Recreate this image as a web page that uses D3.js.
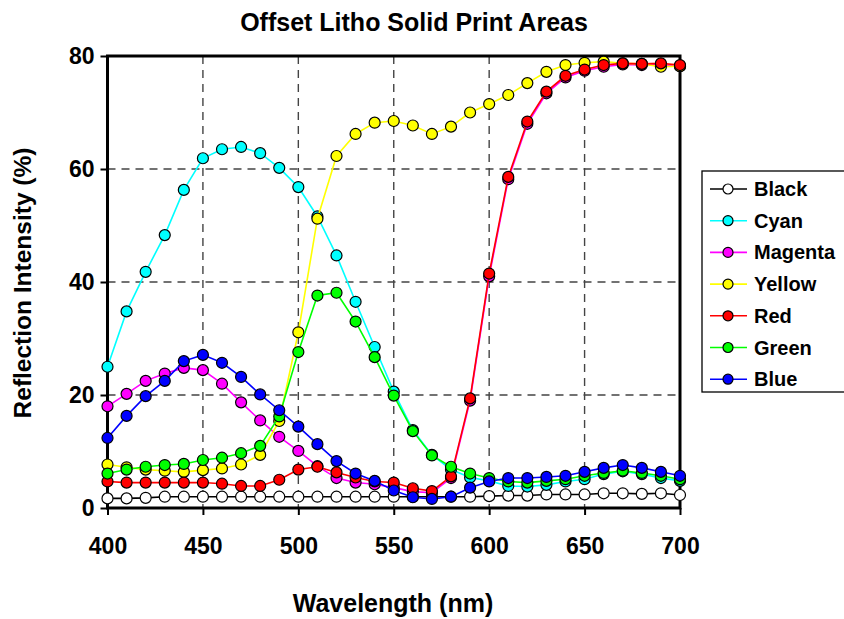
<!DOCTYPE html>
<html>
<head>
<meta charset="utf-8">
<script src="https://cdn.jsdelivr.net/npm/d3@7"></script>
<style>
  html, body { margin: 0; padding: 0; background: #fff; }
  svg { display: block; font-family: "Liberation Sans", Arial, sans-serif; font-weight: bold; }
</style>
</head>
<body>
<svg id="chart" width="844" height="619"></svg>
<script>
// Wavelengths sampled every 10 nm
const wavelengths = d3.range(400, 701, 10);

// Reflection intensity (%) for each printed solid
const black   = [1.7, 1.7, 1.8, 2.0, 2.0, 2.0, 2.0, 2.0, 2.0, 2.0, 2.0, 2.0, 2.0, 2.0, 2.0, 2.0, 2.0, 2.0, 2.0, 2.0, 2.1, 2.2, 2.2, 2.4, 2.4, 2.4, 2.6, 2.6, 2.5, 2.6, 2.3];
const cyan    = [25.0, 34.8, 41.8, 48.3, 56.3, 61.9, 63.5, 63.9, 62.8, 60.2, 56.8, 51.6, 44.7, 36.5, 28.5, 20.6, 13.8, 9.4, 6.8, 5.4, 4.8, 3.9, 3.8, 4.1, 4.7, 5.1, 6.0, 6.5, 6.0, 5.3, 4.8];
const magenta = [18.0, 20.2, 22.5, 23.8, 24.8, 24.4, 22.0, 18.7, 15.5, 12.6, 10.1, 7.4, 5.3, 4.5, 4.2, 3.6, 2.9, 2.7, 5.3, 19.0, 41.0, 58.2, 68.0, 73.4, 76.2, 77.4, 78.1, 78.5, 78.4, 78.5, 78.2];
const yellow  = [7.7, 7.2, 6.8, 6.6, 6.4, 6.7, 7.0, 7.7, 9.4, 15.4, 31.1, 51.2, 62.3, 66.2, 68.2, 68.5, 67.7, 66.2, 67.5, 70.0, 71.5, 73.1, 75.2, 77.2, 78.4, 78.8, 79.0, 78.7, 78.6, 78.1, 78.2];
const red     = [4.7, 4.5, 4.5, 4.5, 4.5, 4.5, 4.3, 3.9, 3.9, 5.0, 6.8, 7.3, 6.3, 5.4, 4.7, 4.5, 3.5, 3.0, 5.6, 19.4, 41.5, 58.6, 68.4, 73.7, 76.5, 77.6, 78.4, 78.7, 78.6, 78.7, 78.4];
const green   = [6.1, 6.8, 7.3, 7.6, 7.8, 8.5, 8.9, 9.7, 11.0, 16.2, 27.6, 37.6, 38.1, 33.0, 26.7, 19.9, 13.6, 9.3, 7.3, 6.1, 5.3, 4.7, 4.5, 4.8, 5.1, 5.7, 6.2, 6.6, 6.2, 5.7, 5.1];
const blue    = [12.4, 16.3, 19.8, 22.5, 26.0, 27.1, 25.7, 23.2, 20.1, 17.3, 14.4, 11.3, 8.3, 6.1, 4.8, 3.1, 1.9, 1.6, 2.0, 3.6, 4.7, 5.3, 5.3, 5.5, 5.7, 6.4, 7.1, 7.6, 7.1, 6.4, 5.7];

const seriesNames = ["Black", "Cyan", "Magenta", "Yellow", "Red", "Green", "Blue"];
const lineColors  = ["#000000", "#00ffff", "#ff00ff", "#ffff00", "#ff0000", "#00ff00", "#0000ff"];
const fillColors  = ["#ffffff", "#00ffff", "#ff00ff", "#ffff00", "#ff0000", "#00ff00", "#0000ff"];
const seriesValues = [black, cyan, magenta, yellow, red, green, blue];

const xTicks = [400, 450, 500, 550, 600, 650, 700];
const yTicks = [0, 20, 40, 60, 80];

const svg = d3.select("#chart");
const plot = { left: 107.5, right: 680, top: 56, bottom: 508 };

const x = d3.scaleLinear().domain([400, 700]).range([plot.left, plot.right]);
const y = d3.scaleLinear().domain([0, 80]).range([plot.bottom, plot.top]);

// Dashed grid
const grid = svg.append("g");
grid.selectAll("line.vx").data(xTicks.slice(1, -1)).join("line")
  .attr("x1", d => x(d)).attr("x2", d => x(d))
  .attr("y1", plot.top).attr("y2", plot.bottom)
  .attr("stroke", "#444").attr("stroke-width", 1.4).attr("stroke-dasharray", "8,6");
grid.selectAll("line.hy").data(yTicks.slice(1, -1)).join("line")
  .attr("x1", plot.left).attr("x2", plot.right)
  .attr("y1", d => y(d)).attr("y2", d => y(d))
  .attr("stroke", "#444").attr("stroke-width", 1.4).attr("stroke-dasharray", "8,6");

// Axes
const xAxis = svg.append("g").attr("transform", `translate(0,${plot.bottom})`)
  .call(d3.axisBottom(x).tickValues(xTicks).tickSize(7).tickPadding(23));
const yAxis = svg.append("g").attr("transform", `translate(${plot.left},0)`)
  .call(d3.axisLeft(y).tickValues(yTicks).tickSize(7).tickPadding(6));
[xAxis, yAxis].forEach(a => {
  a.select(".domain").remove();
  a.selectAll(".tick line").attr("stroke", "#000").attr("stroke-width", 2);
  a.selectAll(".tick text").attr("fill", "#000")
    .style("font-size", "23px").style("font-weight", "bold")
    .style("font-family", "'Liberation Sans', Arial, sans-serif");
});

// Plot frame
svg.append("rect")
  .attr("x", plot.left).attr("y", plot.top)
  .attr("width", plot.right - plot.left).attr("height", plot.bottom - plot.top)
  .attr("fill", "none").attr("stroke", "#000").attr("stroke-width", 3);

// Series lines and markers
const line = d3.line().x((d, i) => x(wavelengths[i])).y(d => y(d));
seriesValues.forEach((vals, s) => {
  const g = svg.append("g");
  g.append("path").datum(vals)
    .attr("d", line).attr("fill", "none")
    .attr("stroke", lineColors[s]).attr("stroke-width", 1.6);
  g.selectAll("circle").data(vals).join("circle")
    .attr("cx", (d, i) => x(wavelengths[i])).attr("cy", d => y(d))
    .attr("r", 5.5).attr("fill", fillColors[s])
    .attr("stroke", "#000").attr("stroke-width", 1.2);
});

// Titles
svg.append("text").attr("x", 414).attr("y", 31).attr("text-anchor", "middle")
  .style("font-size", "25px").text("Offset Litho Solid Print Areas");
svg.append("text").attr("x", 393).attr("y", 612).attr("text-anchor", "middle")
  .style("font-size", "25px").text("Wavelength (nm)");
svg.append("text").attr("transform", "translate(31,283) rotate(-90)").attr("text-anchor", "middle")
  .style("font-size", "24.5px").text("Reflection Intensity (%)");

// Legend
const legend = svg.append("g").attr("transform", "translate(702,171)");
legend.append("rect").attr("x", 0).attr("y", 0).attr("width", 150).attr("height", 221)
  .attr("fill", "#fff").attr("stroke", "#000").attr("stroke-width", 1.3);
seriesNames.forEach((name, s) => {
  const ly = 18 + s * 31.7;
  legend.append("line").attr("x1", 8).attr("x2", 45).attr("y1", ly).attr("y2", ly)
    .attr("stroke", lineColors[s]).attr("stroke-width", 1.6);
  legend.append("circle").attr("cx", 26).attr("cy", ly).attr("r", 5)
    .attr("fill", fillColors[s]).attr("stroke", "#000").attr("stroke-width", 1.2);
  legend.append("text").attr("x", 52).attr("y", ly + 7)
    .style("font-size", "20px").text(name);
});
</script>
</body>
</html>
